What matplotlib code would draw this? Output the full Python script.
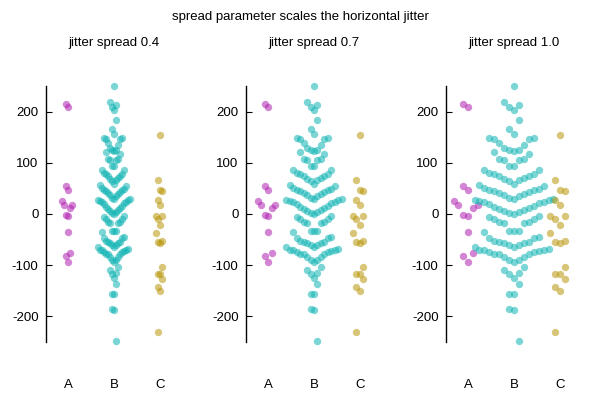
import numpy as np
import matplotlib.pyplot as plt

plt.rcParams['font.family'] = ['Liberation Sans', 'DejaVu Sans']
plt.rcParams['axes.unicode_minus'] = False

categories = ['A', 'B', 'C']
spreads = [0.4, 0.7, 1.0]

# y values. the last B and C values sit below -250:
# they are not drawn but they still push the lowest visible points sideways
a_vals = [214, 209, 55.5, 47.7, 25.5, 16.8, 16.8, 12.3, -2, -3, -36,
          -76, -82.6, -94]
b_vals = [250, 218.6, 212.7, 209, 203, 183.3, 165.7, 156.5,
          148.2, 148, 146.5, 146, 139, 134.5, 128.4, 125.8, 124.5, 123.3,
          121, 116.8, 107, 106.5, 106, 104.7, 94.5, 93.4,
          86.5, 86.5, 80, 78.5, 78, 75, 73.5, 69.5, 69, 67, 64, 59.5,
          56.8, 54.2, 50.3, 49, 47.7, 47.7, 44.5, 43.9, 41.3, 39.4, 38, 34.8,
          31.6, 30,
          28.5, 27.5, 26.5, 25.5, 24, 23, 21.5, 19, 15.5, 14, 11.5, 10, 7,
          5.5, 3, 2, 0.3,
          -4.8, -6.5, -9, -10.4, -15, -15, -18, -18, -32.6, -32.6, -33.5,
          -35, -45.8, -47.7, -47.7, -52, -54, -54, -56.8, -56.8, -60, -60.6,
          -63.5,
          -65, -68.4, -69.7, -69.7, -70, -71.6, -73.5, -74.8, -78, -78, -79,
          -84.5, -84.5, -89.7, -89.7, -93,
          -104, -110, -115, -116.8, -124.5,
          -136, -155.5, -155.5,
          -186, -188,
          -249, -262, -268]
c_vals = [153.5, 66.5, 47.7, 45.8, 27, 18, -3.9, -4.5, -9.7, -21, -37.4,
          -53.5, -55.5, -56.8, -104, -116.8, -116.8, -126.5, -142.6, -149.7,
          -229.7, -255]
colors = ['#b020b0', '#10b4b4', '#b8960a']

overlap = 29.0   # y distance counted as overlapping
step = 0.108     # x shift per slot for spread 1.0


def jitter(vals, spread):
    # gnuplot style swarm: sort, first point of a run stays put,
    # the rest go left/right alternately
    y = np.sort(np.asarray(vals, float))
    dx = np.zeros(len(y))
    i = 0
    while i < len(y):
        j = 1
        while i + j < len(y) and y[i + j] - y[i] <= overlap:
            k = (j + 1) // 2
            dx[i + j] = -k if j % 2 else k
            j += 1
        i += j
    return y, dx * step * spread


fig = plt.figure(figsize=(6, 4), dpi=100)
for n, s in enumerate(spreads):
    ax = fig.add_axes([(45.5 + 200 * n) / 600, 58 / 400, 137 / 600, 256 / 400])
    for ci, vals in enumerate([a_vals, b_vals, c_vals]):
        y, dx = jitter(vals, s)
        keep = np.abs(y) <= 250
        ax.scatter(ci + 1 + dx[keep], y[keep], s=28, color=colors[ci],
                   alpha=0.55, linewidths=0, clip_on=False)
    ax.set_xlim(0.5, 3.5)
    ax.set_ylim(-250, 250)
    ax.set_xticks([1, 2, 3])
    ax.set_xticklabels(categories)
    ax.set_yticks([-200, -100, 0, 100, 200])
    for side in ['top', 'right', 'bottom']:
        ax.spines[side].set_visible(False)
    ax.spines['left'].set_linewidth(1)
    ax.tick_params(axis='y', direction='in', length=4, pad=5, labelsize=9.5)
    ax.tick_params(axis='x', length=0, pad=27, labelsize=9.5)
    ax.set_title('jitter spread %.1f' % s, fontsize=9.5, pad=29)

fig.suptitle('spread parameter scales the horizontal jitter', fontsize=9.5,
             y=1 - 17 / 400, va='center')
fig.savefig('out.png', dpi=100)
